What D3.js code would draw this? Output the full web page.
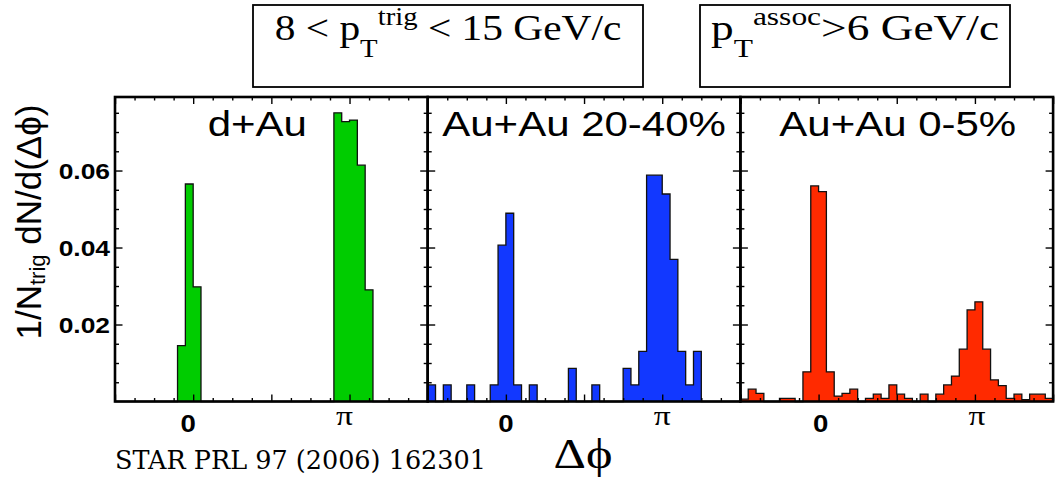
<!DOCTYPE html>
<html>
<head>
<meta charset="utf-8">
<script src="https://cdn.jsdelivr.net/npm/d3@7"></script>
<style>
  body { margin: 0; background: #fff; }
  svg { display: block; }
</style>
</head>
<body>
<svg id="chart" width="1058" height="484"></svg>
<script>
// Δϕ distributions, 40 bins of π/20 spanning [-π/2, 3π/2]
const panelNames = ["d+Au", "Au+Au 20-40%", "Au+Au 0-5%"];

const dAu = [
  0, 0, 0, 0, 0, 0, 0, 0, 0.0145, 0.0565,
  0.0298, 0, 0, 0, 0, 0, 0, 0, 0, 0,
  0, 0, 0, 0, 0, 0, 0, 0, 0.0750, 0.0727,
  0.0731, 0.0614, 0.0290, 0, 0, 0, 0, 0, 0, 0
];

const auAu2040 = [
  0.0043, 0, 0.0043, 0, 0, 0.0043, 0, 0, 0.0043, 0.0406,
  0.0489, 0.0043, 0, 0.0043, 0, 0, 0, 0, 0.0086, 0,
  0, 0.0043, 0, 0, 0, 0.0086, 0.0043, 0.0130, 0.0588, 0.0588,
  0.0539, 0.0369, 0.0130, 0.0043, 0.0130, 0, 0, 0, 0, 0
];

const auAu05 = [
  0.0006, 0.0032, 0.0021, 0, 0, 0.0008, 0.0008, 0, 0.0077, 0.0560,
  0.0545, 0.0077, 0.0014, 0.0021, 0.0032, 0, 0.0008, 0.0019, 0.0008, 0.0043,
  0.0019, 0.0008, 0, 0.0019, 0, 0.0019, 0.0043, 0.0066, 0.0136, 0.0238,
  0.0259, 0.0136, 0.0056, 0.0041, 0.0008, 0.0019, 0.0005, 0.0019, 0.0019, 0.0008
];

const panelValues = [dAu, auAu2040, auAu05];
const panelColors = ["#00cc00", "#1238ff", "#ff2a00"];

const phiRange = [-Math.PI / 2, 3 * Math.PI / 2];
const yRange = [0, 0.0791];

const yTickValues = [0.02, 0.04, 0.06];
const yTickLabels = ["0.02", "0.04", "0.06"];
const xTickValues = [0, Math.PI];
const xTickLabels = ["0", "π"];

// ---- layout ----
const plotLeft = 115, plotTop = 97, plotBottom = 401.5, panelW = 312.7;
const stretch = 1.2;              // horizontal glyph stretch of the figure text
const labelShift = [-14, 0, 1];   // per-panel offset of the system label
const tickLabelShift = [-5, 0, 2]; // per-panel offset of the 0 / π labels

const svg = d3.select("#chart");
const y = d3.scaleLinear().domain(yRange).range([plotBottom, plotTop]);

const yMinor = d3.range(1, 16).map(k => k * 0.005);
const xAll = d3.range(0, 17).map(k => phiRange[0] + k * Math.PI / 8);
const xMajor = xAll.filter((d, k) => k % 4 === 0);
const xMinor = xAll.filter((d, k) => k % 4 !== 0);
const yMajor = yMinor.filter((d, k) => (k + 1) % 4 === 0);
const yMinorOnly = yMinor.filter((d, k) => (k + 1) % 4 !== 0);

function styleAxis(sel) {
  sel.select(".domain").remove();
  sel.selectAll(".tick line").attr("stroke", "#000").attr("stroke-width", 1.4);
  sel.selectAll(".tick text").remove();
}

panelValues.forEach((vals, i) => {
  const x0 = plotLeft + i * panelW;
  const x = d3.scaleLinear().domain(phiRange).range([x0, x0 + panelW]);
  const nb = vals.length;
  const bw = (phiRange[1] - phiRange[0]) / nb;
  const edges = d3.range(nb + 1).map(k => phiRange[0] + k * bw);

  const g = svg.append("g");

  // step histogram outline, filled
  const pts = [[edges[0], 0]];
  vals.forEach((v, k) => pts.push([edges[k], v]));
  pts.push([edges[nb], 0]);
  const line = d3.line()
    .x(d => x(d[0]))
    .y(d => y(d[1]))
    .curve(d3.curveStepAfter);
  g.append("path")
    .attr("d", line(pts))
    .attr("fill", panelColors[i])
    .attr("stroke", "#111")
    .attr("stroke-width", 1.3)
    .attr("stroke-linejoin", "miter");

  // ticks on all four sides, pointing inward
  const axes = [
    [d3.axisBottom(x).tickValues(xMinor).tickSize(-3.5), `translate(0,${plotBottom})`],
    [d3.axisBottom(x).tickValues(xMajor).tickSize(-7), `translate(0,${plotBottom})`],
    [d3.axisTop(x).tickValues(xMinor).tickSize(-3.5), `translate(0,${plotTop})`],
    [d3.axisTop(x).tickValues(xMajor).tickSize(-7), `translate(0,${plotTop})`],
    [d3.axisLeft(y).tickValues(yMinorOnly).tickSize(-4), `translate(${x0},0)`],
    [d3.axisLeft(y).tickValues(yMajor).tickSize(-7.5), `translate(${x0},0)`],
    [d3.axisRight(y).tickValues(yMinorOnly).tickSize(-4), `translate(${x0 + panelW},0)`],
    [d3.axisRight(y).tickValues(yMajor).tickSize(-7.5), `translate(${x0 + panelW},0)`]
  ];
  axes.forEach(([ax, tr]) => {
    g.append("g").attr("transform", tr).call(ax).call(styleAxis);
  });

  // frame
  g.append("rect")
    .attr("x", x0).attr("y", plotTop)
    .attr("width", panelW).attr("height", plotBottom - plotTop)
    .attr("fill", "none").attr("stroke", "#000").attr("stroke-width", 2.6);

  // x tick labels
  xTickValues.forEach((v, k) => {
    const isPi = xTickLabels[k] === "π";
    svg.append("text")
      .attr("transform", `translate(${x(v) + tickLabelShift[i]},${isPi ? 425 : 432}) scale(${stretch},1)`)
      .attr("text-anchor", "middle")
      .attr("font-family", isPi ? "Liberation Serif, serif" : "Liberation Sans, Arial, sans-serif")
      .attr("font-weight", isPi ? "normal" : "bold")
      .attr("font-size", isPi ? 28 : 23)
      .text(xTickLabels[k]);
  });

  // collision system label
  svg.append("text")
    .attr("transform", `translate(${x0 + panelW / 2 + labelShift[i]},135.5) scale(${stretch},1)`)
    .attr("text-anchor", "middle")
    .attr("font-family", "Liberation Sans, Arial, sans-serif")
    .attr("font-size", 35)
    .text(panelNames[i]);
});

// y tick labels
yTickValues.forEach((v, k) => {
  svg.append("text")
    .attr("transform", `translate(110,${y(v) + 8}) scale(${stretch},1)`)
    .attr("text-anchor", "end")
    .attr("font-family", "Liberation Sans, Arial, sans-serif")
    .attr("font-weight", "bold")
    .attr("font-size", 22)
    .text(yTickLabels[k]);
});

// y axis title
const yTitle = svg.append("text")
  .attr("transform", "translate(41,222) rotate(-90)")
  .attr("text-anchor", "middle")
  .attr("font-family", "Liberation Sans, Arial, sans-serif")
  .attr("font-size", 35);
yTitle.append("tspan").text("1/N");
yTitle.append("tspan").attr("font-size", 22).attr("dy", 4).text("trig");
yTitle.append("tspan").attr("dy", -4).text(" dN/d(Δϕ)");

// x axis title
svg.append("text")
  .attr("transform", `translate(583,468) scale(${stretch},1)`)
  .attr("text-anchor", "middle")
  .attr("font-family", "Liberation Serif, serif")
  .attr("font-size", 42)
  .text("Δϕ");

// reference
svg.append("text")
  .attr("x", 115).attr("y", 469)
  .attr("font-family", "DejaVu Serif, serif")
  .attr("font-size", 25.5)
  .text("STAR PRL 97 (2006) 162301");

// kinematic selection boxes
const boxes = [
  { x: 253, w: 390, sx: 1.15, parts: [["8 < p", 0], ["T", 1], ["trig", -1], [" < 15 GeV/c", 0]] },
  { x: 700, w: 310, sx: 1.26, parts: [["p", 0], ["T", 1], ["assoc", -1], [">6 GeV/c", 0]] }
];
boxes.forEach(b => {
  svg.append("rect")
    .attr("x", b.x).attr("y", 5).attr("width", b.w).attr("height", 82)
    .attr("fill", "#fff").attr("stroke", "#000").attr("stroke-width", 1.8);
  const t = svg.append("text")
    .attr("transform", `translate(${b.x + b.w / 2},40) scale(${b.sx},1)`)
    .attr("text-anchor", "middle")
    .attr("font-family", "Liberation Serif, serif")
    .attr("font-size", 36);
  let cur = 0;
  b.parts.forEach(([s, lvl]) => {
    const target = lvl === 1 ? 17 : lvl === -1 ? -15 : 0;
    t.append("tspan")
      .attr("dy", target - cur)
      .attr("font-size", lvl === 0 ? 36 : 25)
      .text(s);
    cur = target;
  });
});
</script>
</body>
</html>
